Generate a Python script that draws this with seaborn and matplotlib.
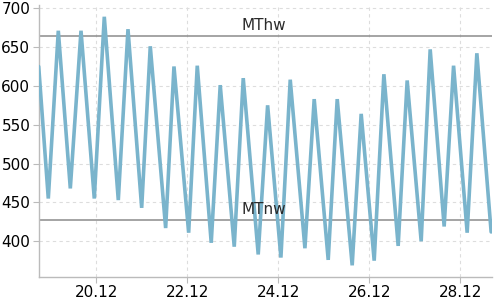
import matplotlib
matplotlib.use("Agg")
import matplotlib.pyplot as plt
import seaborn as sns
import pandas as pd

# time in days of December, water level
days = [18.734, 18.945, 19.165, 19.429, 19.664, 19.956, 20.176, 20.484, 20.697, 20.998,
        21.187, 21.525, 21.708, 22.031, 22.220, 22.527, 22.725, 23.033, 23.231, 23.560,
        23.767, 24.059, 24.264, 24.587, 24.791, 25.099, 25.297, 25.626, 25.824, 26.110,
        26.323, 26.637, 26.835, 27.143, 27.341, 27.648, 27.855, 28.154, 28.367, 28.681]
level = [625, 455, 671, 468, 671, 455, 689, 453, 673, 443,
         651, 417, 625, 411, 626, 398, 601, 393, 610, 383,
         575, 379, 608, 391, 583, 376, 583, 369, 564, 375,
         615, 394, 607, 400, 647, 419, 626, 411, 642, 412]

tick_pos = [20, 22, 24, 26, 28]
tick_labels = ["20.12", "22.12", "24.12", "26.12", "28.12"]
y_ticks = [400, 450, 500, 550, 600, 650, 700]
ref_names = ["MThw", "MTnw"]
ref_values = [664.5, 428]

df = pd.DataFrame({"day": days, "level": level})

sns.set_style("white")
fig = plt.figure(figsize=(5, 3), dpi=100)
ax = fig.add_axes([0.0774, 0.0767, 0.9066, 0.9063])

ax.grid(True, color="#dddddd", linestyle=(0, (3, 3)), linewidth=0.8)
ax.set_axisbelow(True)

for name, val in zip(ref_names, ref_values):
    ax.axhline(val, color="#8c8c8c", linewidth=1.1, zorder=2)
    ax.annotate(name, xy=(23.2, val), xytext=(0, 2), textcoords="offset points",
                ha="left", va="bottom", fontsize=11,
                color="#2a2a2a", zorder=4)

sns.lineplot(data=df, x="day", y="level", ax=ax, color="#7ab4cc", linewidth=2.6,
             zorder=3, solid_joinstyle="miter")

ax.set_xlim(18.734, 28.70)
ax.set_ylim(354, 704)
ax.set_xticks(tick_pos)
ax.set_xticklabels(tick_labels)
ax.set_yticks(y_ticks)
ax.set_xlabel("")
ax.set_ylabel("")
ax.tick_params(axis="both", labelsize=11, colors="#bbbbbb", labelcolor="#000000",
               length=4, width=0.8, pad=2, left=True, bottom=True)

for s in ["top", "right"]:
    ax.spines[s].set_visible(False)
for s in ["left", "bottom"]:
    ax.spines[s].set_color("#bbbbbb")
    ax.spines[s].set_linewidth(1.0)

fig.savefig("out.png", dpi=100)
